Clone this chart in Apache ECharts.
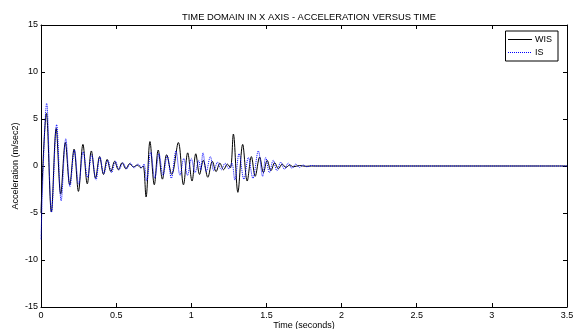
<!DOCTYPE html>
<html>
<head>
<meta charset="utf-8">
<script src="https://cdn.jsdelivr.net/npm/echarts@6/dist/echarts.min.js"></script>
<style>
html,body{margin:0;padding:0;background:#fff;}
#chart{width:575px;height:329px;}
</style>
</head>
<body>
<div id="chart"></div>
<script>
// Time (s) and acceleration (m/sec2) samples
var wisTime = [0.000,0.036,0.069,0.101,0.131,0.162,0.191,0.220,0.249,0.279,0.308,0.335,0.363,0.390,0.416,0.440,0.465,0.490,0.515,0.540,0.565,0.590,0.615,0.640,0.665,0.680,0.699,0.725,0.754,0.780,0.808,0.836,0.870,0.914,0.948,0.976,1.005,1.030,1.055,1.080,1.110,1.140,1.165,1.190,1.215,1.240,1.260,1.280,1.310,1.342,1.372,1.400,1.425,1.455,1.480,1.505,1.530,1.555,1.580,1.605,1.630,1.655,1.680,1.720,1.760,1.800,3.500];
var wisAccel = [-5.0,5.6,-4.9,4.0,-3.0,2.5,-2.0,1.8,-2.7,2.3,-1.9,1.6,-1.3,1.0,-0.9,0.7,-0.6,0.5,-0.4,0.35,-0.3,0.25,-0.1,0.1,-0.2,0.0,-3.3,2.6,-2.0,1.7,-1.4,1.2,-0.9,2.5,-2.0,1.4,-1.6,1.3,-0.9,0.6,-1.2,0.5,-0.6,0.3,-0.4,0.2,-0.2,3.4,-2.8,2.3,-1.6,1.0,-1.1,0.95,-0.7,0.6,-0.5,0.35,-0.3,0.2,-0.15,0.1,-0.08,0.05,-0.03,0.0,0.0];

var isTime = [0.000,0.038,0.070,0.104,0.134,0.165,0.193,0.222,0.251,0.281,0.310,0.337,0.366,0.392,0.418,0.445,0.470,0.495,0.520,0.545,0.570,0.595,0.620,0.645,0.670,0.685,0.703,0.730,0.757,0.785,0.812,0.840,0.867,0.898,0.925,0.950,0.975,1.000,1.025,1.050,1.062,1.078,1.100,1.127,1.150,1.175,1.200,1.225,1.250,1.270,1.290,1.318,1.350,1.380,1.410,1.446,1.475,1.495,1.520,1.545,1.570,1.595,1.620,1.645,1.670,1.695,1.720,1.745,1.770,1.800,1.830,3.500];
var isAccel = [-7.8,6.7,-4.9,4.4,-3.7,2.9,-2.2,1.7,-2.0,1.5,-1.2,1.2,-1.5,1.0,-0.8,0.6,-0.7,0.5,-0.4,0.35,-0.3,0.3,-0.2,0.2,-0.15,0.2,-1.6,1.5,-1.3,1.3,-1.0,1.1,-1.3,1.6,-1.0,0.8,-1.0,0.8,-0.7,0.6,-0.4,1.4,-0.6,1.0,-0.5,0.4,-0.4,0.3,-0.3,0.3,-1.5,1.3,-1.4,0.9,-1.3,1.6,-1.1,0.9,-0.7,0.6,-0.5,0.4,-0.35,0.3,-0.25,0.2,-0.15,0.1,-0.08,0.05,0.0,0.0];

var seriesNames = ['WIS','IS'];
var titleText = 'TIME DOMAIN IN X AXIS - ACCELERATION VERSUS TIME';
var xName = 'Time (seconds)';
var yName = 'Acceleration (m/sec2)';

function pairs(t, a){ var out=[]; for(var i=0;i<t.length;i++){ out.push([t[i],a[i]]); } return out; }

var font = 'Liberation Sans, Arial, sans-serif';
var chart = echarts.init(document.getElementById('chart'), null, {renderer:'canvas'});
var axisCommonX = {
  type:'value', min:0, max:3.5, interval:0.5,
  axisLine:{show:true, onZero:false, lineStyle:{color:'#000', width:1}},
  axisTick:{show:true, inside:true, length:4, lineStyle:{color:'#000'}},
  splitLine:{show:false}
};
var axisCommonY = {
  type:'value', min:-15, max:15, interval:5,
  axisLine:{show:true, onZero:false, lineStyle:{color:'#000', width:1}},
  axisTick:{show:true, inside:true, length:4, lineStyle:{color:'#000'}},
  splitLine:{show:false}
};
chart.setOption({
  animation:false,
  backgroundColor:'#fff',
  title:{
    text:titleText, left:304, top:8, textAlign:'center',
    textStyle:{fontFamily:font, fontSize:9.4, fontWeight:'normal', color:'#000'}
  },
  legend:{
    data:seriesNames, orient:'vertical', right:17, top:31,
    borderColor:'#000', borderWidth:1, padding:[4,6,4,2],
    itemWidth:24, itemHeight:8, itemGap:4,
    itemStyle:{opacity:0},
    lineStyle:{width:1},
    textStyle:{fontFamily:font, fontSize:9, color:'#000', padding:[0,0,0,-2]}
  },
  grid:{left:41, right:8, top:25, bottom:22, containLabel:false, outerBoundsMode:'none'},
  xAxis:[
    Object.assign({}, axisCommonX, {
      position:'bottom',
      name:xName, nameLocation:'middle', nameGap:14, nameMoveOverlap:false,
      nameTextStyle:{fontFamily:font, fontSize:9, color:'#000'},
      axisLabel:{show:true, margin:4, fontFamily:font, fontSize:9, color:'#000'}
    }),
    Object.assign({}, axisCommonX, {position:'top', axisLabel:{show:false}})
  ],
  yAxis:[
    Object.assign({}, axisCommonY, {
      position:'left',
      name:yName, nameLocation:'middle', nameGap:21, nameMoveOverlap:false,
      nameTextStyle:{fontFamily:font, fontSize:9, color:'#000'},
      axisLabel:{show:true, margin:3, fontFamily:font, fontSize:9, color:'#000'}
    }),
    Object.assign({}, axisCommonY, {position:'right', axisLabel:{show:false}})
  ],
  series:[
    {name:seriesNames[0], type:'line', xAxisIndex:0, yAxisIndex:0, showSymbol:false, symbol:'none',
     smooth:0.35,
     lineStyle:{color:'#000', width:1, type:'solid'}, itemStyle:{color:'#000'},
     data:pairs(wisTime, wisAccel)},
    {name:seriesNames[1], type:'line', xAxisIndex:0, yAxisIndex:0, showSymbol:false, symbol:'none',
     smooth:0.35,
     lineStyle:{color:'#0000ff', width:1, type:'dotted'}, itemStyle:{color:'#0000ff'},
     data:pairs(isTime, isAccel)}
  ]
});
</script>
</body>
</html>
